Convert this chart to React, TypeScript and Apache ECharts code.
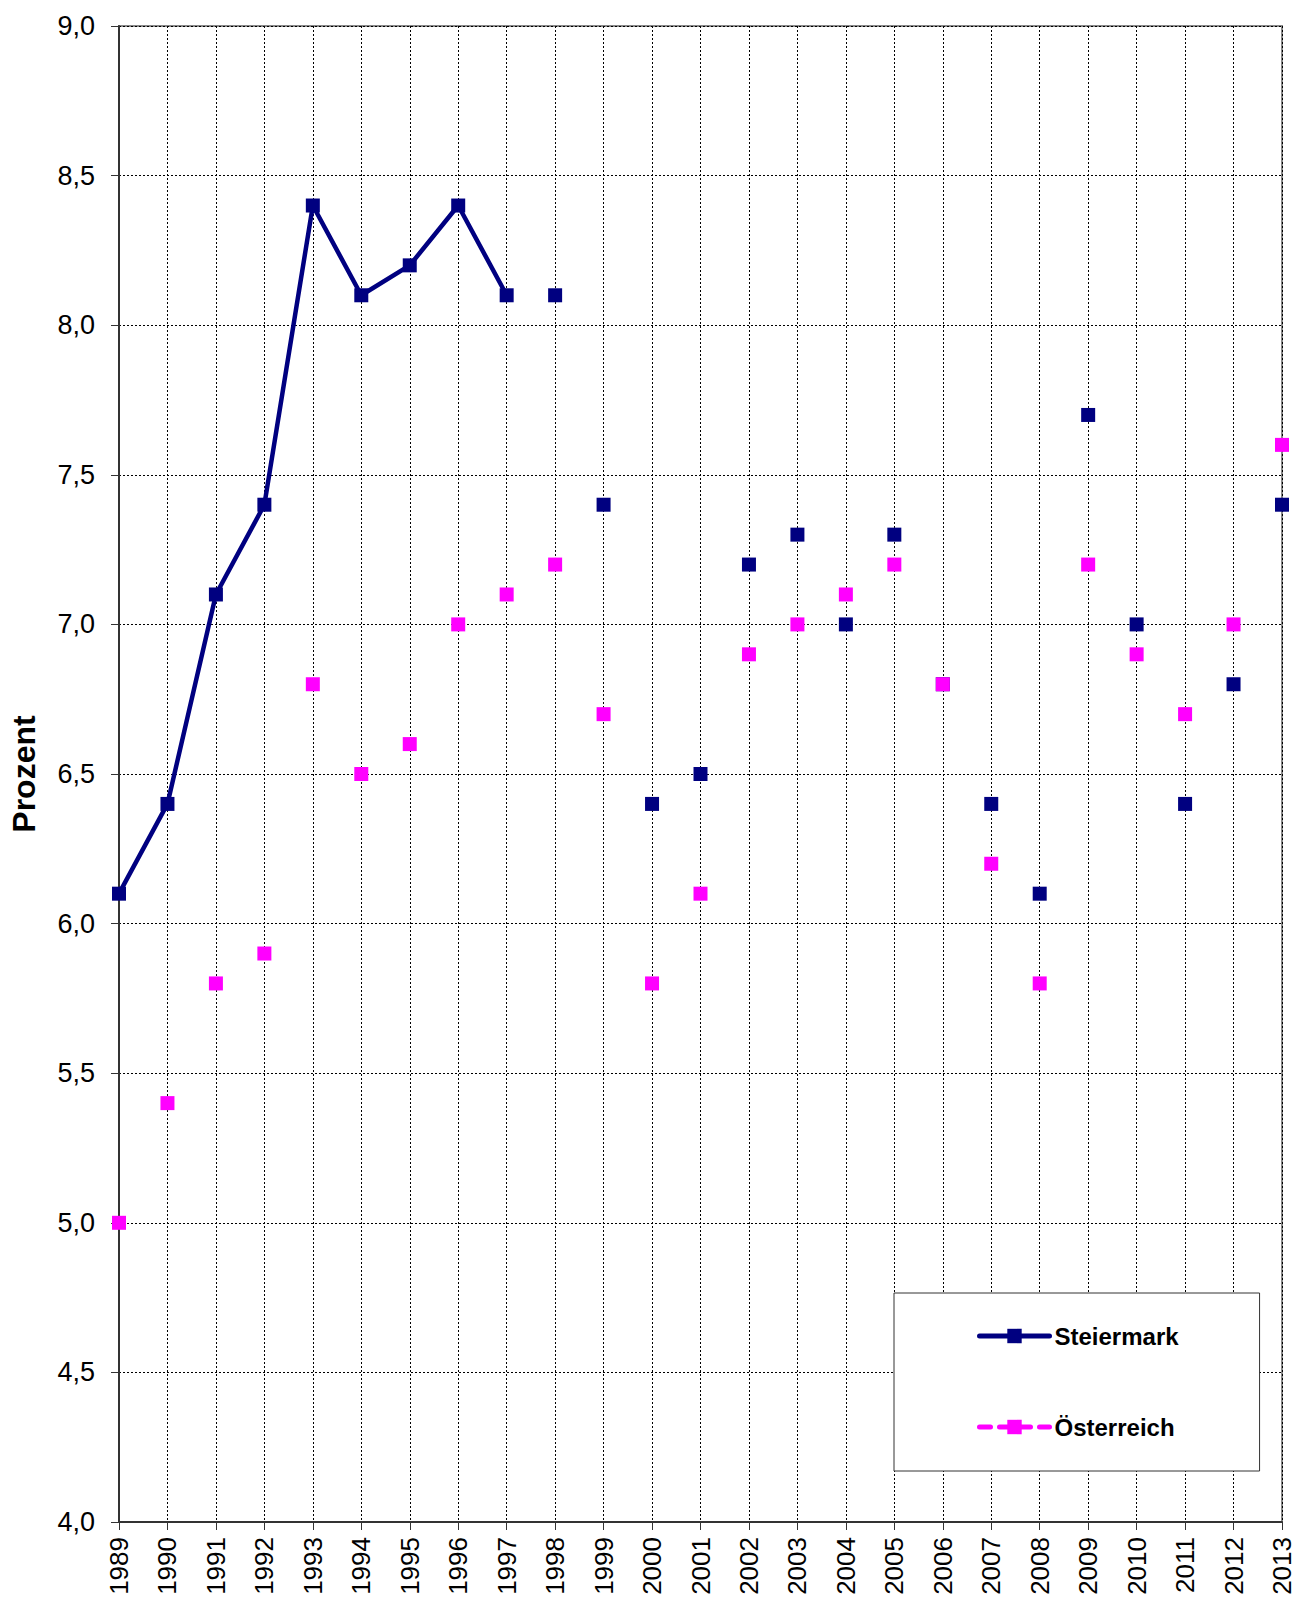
import React, { useEffect, useRef } from "react";
import * as echarts from "echarts";

const years = ["1989","1990","1991","1992","1993","1994","1995","1996","1997","1998","1999","2000","2001","2002","2003","2004","2005","2006","2007","2008","2009","2010","2011","2012","2013"];
const steiermark = [6.1, 6.4, 7.1, 7.4, 8.4, 8.1, 8.2, 8.4, 8.1, 8.1, 7.4, 6.4, 6.5, 7.2, 7.3, 7.0, 7.3, 6.8, 6.4, 6.1, 7.7, 7.0, 6.4, 6.8, 7.4];
const oesterreich = [5.0, 5.4, 5.8, 5.9, 6.8, 6.5, 6.6, 7.0, 7.1, 7.2, 6.7, 5.8, 6.1, 6.9, 7.0, 7.1, 7.2, 6.8, 6.2, 5.8, 7.2, 6.9, 6.7, 7.0, 7.6];
const connectedUntil = "1997";

const FONT = "'Liberation Sans', Arial, sans-serif";
const NAVY = "#000080";
const MAGENTA = "#FF00FF";

export default function App() {
  const ref = useRef<HTMLDivElement>(null);
  useEffect(() => {
    if (!ref.current) return;
    const chart = echarts.init(ref.current, null, { renderer: "svg" });
    const cut = years.indexOf(connectedUntil);
    const lineData = steiermark.map((v, i) => (i <= cut ? v : "-"));
    const pointData = steiermark.map((v, i) => (i > cut ? v : "-"));
    chart.setOption({
      animation: false,
      textStyle: { fontFamily: FONT },
      grid: {
        left: 119, top: 26, right: 13, bottom: 76,
        show: true, borderColor: "#888888", borderWidth: 2,
        containLabel: false, outerBoundsMode: "none",
      },
      legend: {
        orient: "vertical",
        left: 894,
        top: 1293,
        padding: [31, 81, 32, 83],
        itemGap: 67,
        itemWidth: 70,
        itemHeight: 18,
        backgroundColor: "#ffffff",
        borderColor: "#333333",
        borderWidth: 1,
        textStyle: { fontFamily: FONT, fontSize: 24, fontWeight: "bold", color: "#000" },
        data: [
          { name: "Steiermark", lineStyle: { width: 5, color: NAVY, opacity: 1, cap: "round" } },
          { name: "Österreich", lineStyle: { width: 5, color: MAGENTA, type: [11, 9], opacity: 1, cap: "round" } },
        ],
      },
      xAxis: {
        type: "category",
        data: years,
        boundaryGap: false,
        axisLine: { show: true, lineStyle: { color: "#333333", width: 2 } },
        axisTick: { show: true, length: 8, alignWithLabel: true, lineStyle: { color: "#333333", width: 1 } },
        axisLabel: { rotate: 90, margin: 15, fontSize: 26, lineHeight: 22, color: "#000", fontFamily: FONT, interval: 0 },
        splitLine: { show: true, lineStyle: { color: "#000", type: [2, 2], width: 1 } },
      },
      yAxis: {
        type: "value",
        min: 4,
        max: 9,
        interval: 0.5,
        name: "Prozent",
        nameLocation: "middle",
        nameGap: 79,
        nameTextStyle: { fontSize: 32, fontWeight: "bold", color: "#000", fontFamily: FONT },
        axisLine: { show: true, lineStyle: { color: "#333333", width: 2 } },
        axisTick: { show: true, length: 8, lineStyle: { color: "#333333", width: 1 } },
        axisLabel: { margin: 24, fontSize: 27, color: "#000", fontFamily: FONT, formatter: (v: number) => v.toFixed(1).replace(".", ",") },
        splitLine: { show: true, lineStyle: { color: "#000", type: [2, 2], width: 1 } },
      },
      series: [
        {
          name: "Steiermark",
          type: "line",
          data: lineData,
          symbol: "rect",
          symbolSize: 14,
          itemStyle: { color: NAVY },
          lineStyle: { color: NAVY, width: 4.5 },
          connectNulls: false,
          z: 3,
        },
        {
          name: "Steiermark",
          type: "line",
          data: pointData,
          symbol: "rect",
          symbolSize: 14,
          itemStyle: { color: NAVY },
          lineStyle: { opacity: 0 },
          z: 3,
        },
        {
          name: "Österreich",
          type: "line",
          data: oesterreich,
          symbol: "rect",
          symbolSize: 14,
          itemStyle: { color: MAGENTA },
          lineStyle: { opacity: 0, color: MAGENTA },
          z: 4,
        },
      ],
    });
    return () => chart.dispose();
  }, []);
  return <div ref={ref} style={{ position: "absolute", left: 0, top: 0, width: 1295, height: 1598 }} />;
}
